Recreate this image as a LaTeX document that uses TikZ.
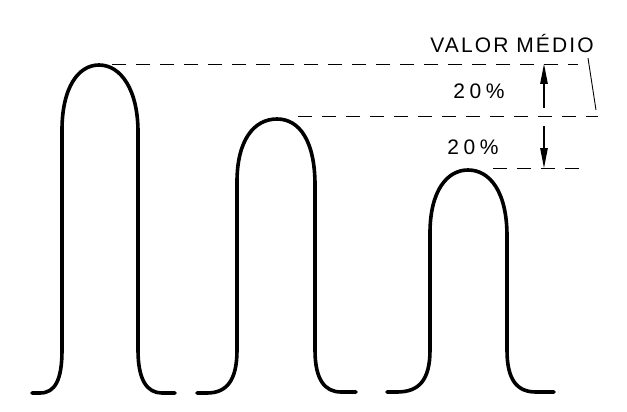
\documentclass[tikz,border=0pt]{standalone}
\usepackage{fontspec}
\setmainfont{Liberation Sans}
\usetikzlibrary{arrows.meta}
\begin{document}
\begin{tikzpicture}[x=1pt,y=-1pt,
  pulse/.style={line width=3.6pt,line cap=round,line join=round},
  guide/.style={line width=0.9pt,dash pattern=on 14pt off 10pt},
  dimarrow/.style={line width=1.1pt,-{Triangle[length=20pt,width=7.5pt]}},
  lbl/.style={inner sep=0pt,font=\fontsize{21}{24}\selectfont\addfontfeature{LetterSpace=10}},
  pct/.style={inner sep=0pt,font=\fontsize{21}{24}\selectfont\addfontfeature{LetterSpace=22}}]
\useasboundingbox (0,0) rectangle (627,412);
% pulses
\draw[pulse] (32,393) -- (40,393) .. controls (55,393) and (62,380) .. (62,350) -- (62,130)
  .. controls (62,88) and (78,65) .. (99,65) .. controls (121,65) and (138,90) .. (138,132)
  -- (138,350) .. controls (138,380) and (147,393) .. (162,393) -- (175,393);
\draw[pulse] (197,393) -- (207,393) .. controls (227,393) and (237,380) .. (237,350) -- (237,182)
  .. controls (237,140) and (254,119) .. (277,119) .. controls (300,119) and (315,142) .. (315,185)
  -- (315,350) .. controls (315,380) and (325,392) .. (341,392) -- (356,392);
\draw[pulse] (387,392) -- (397,392) .. controls (419,392) and (430,380) .. (430,350) -- (430,233)
  .. controls (430,191) and (447,170) .. (468,170) .. controls (490,170) and (507,192) .. (507,236)
  -- (507,350) .. controls (507,380) and (517,392) .. (536,392) -- (554,392);
% guide lines
\coordinate (t1) at (112,64);  \coordinate (t2) at (578,64);
\coordinate (m1) at (298,116); \coordinate (m2) at (598,116);
\coordinate (b1) at (493,168); \coordinate (b2) at (580,168);
\draw[guide] (t1) -- (t2);
\draw[guide] (m1) -- (m2);
\draw[guide] (b1) -- (b2);
% arrows
\coordinate (a1) at (544,108); \coordinate (a1t) at (544,64);
\coordinate (a2) at (544,126); \coordinate (a2t) at (544,168);
\draw[dimarrow] (a1) -- (a1t);
\draw[dimarrow] (a2) -- (a2t);
% leader
\coordinate (l1) at (588,58); \coordinate (l2) at (596,110);
\draw[line width=0.9pt] (l1) -- (l2);
% labels
\node[lbl] (valor) at (512,43) {VALOR MÉDIO};
\node[pct] (p1) at (479,91) {20\%};
\node[pct] (p2) at (473,147) {20\%};
\end{tikzpicture}
\end{document}
